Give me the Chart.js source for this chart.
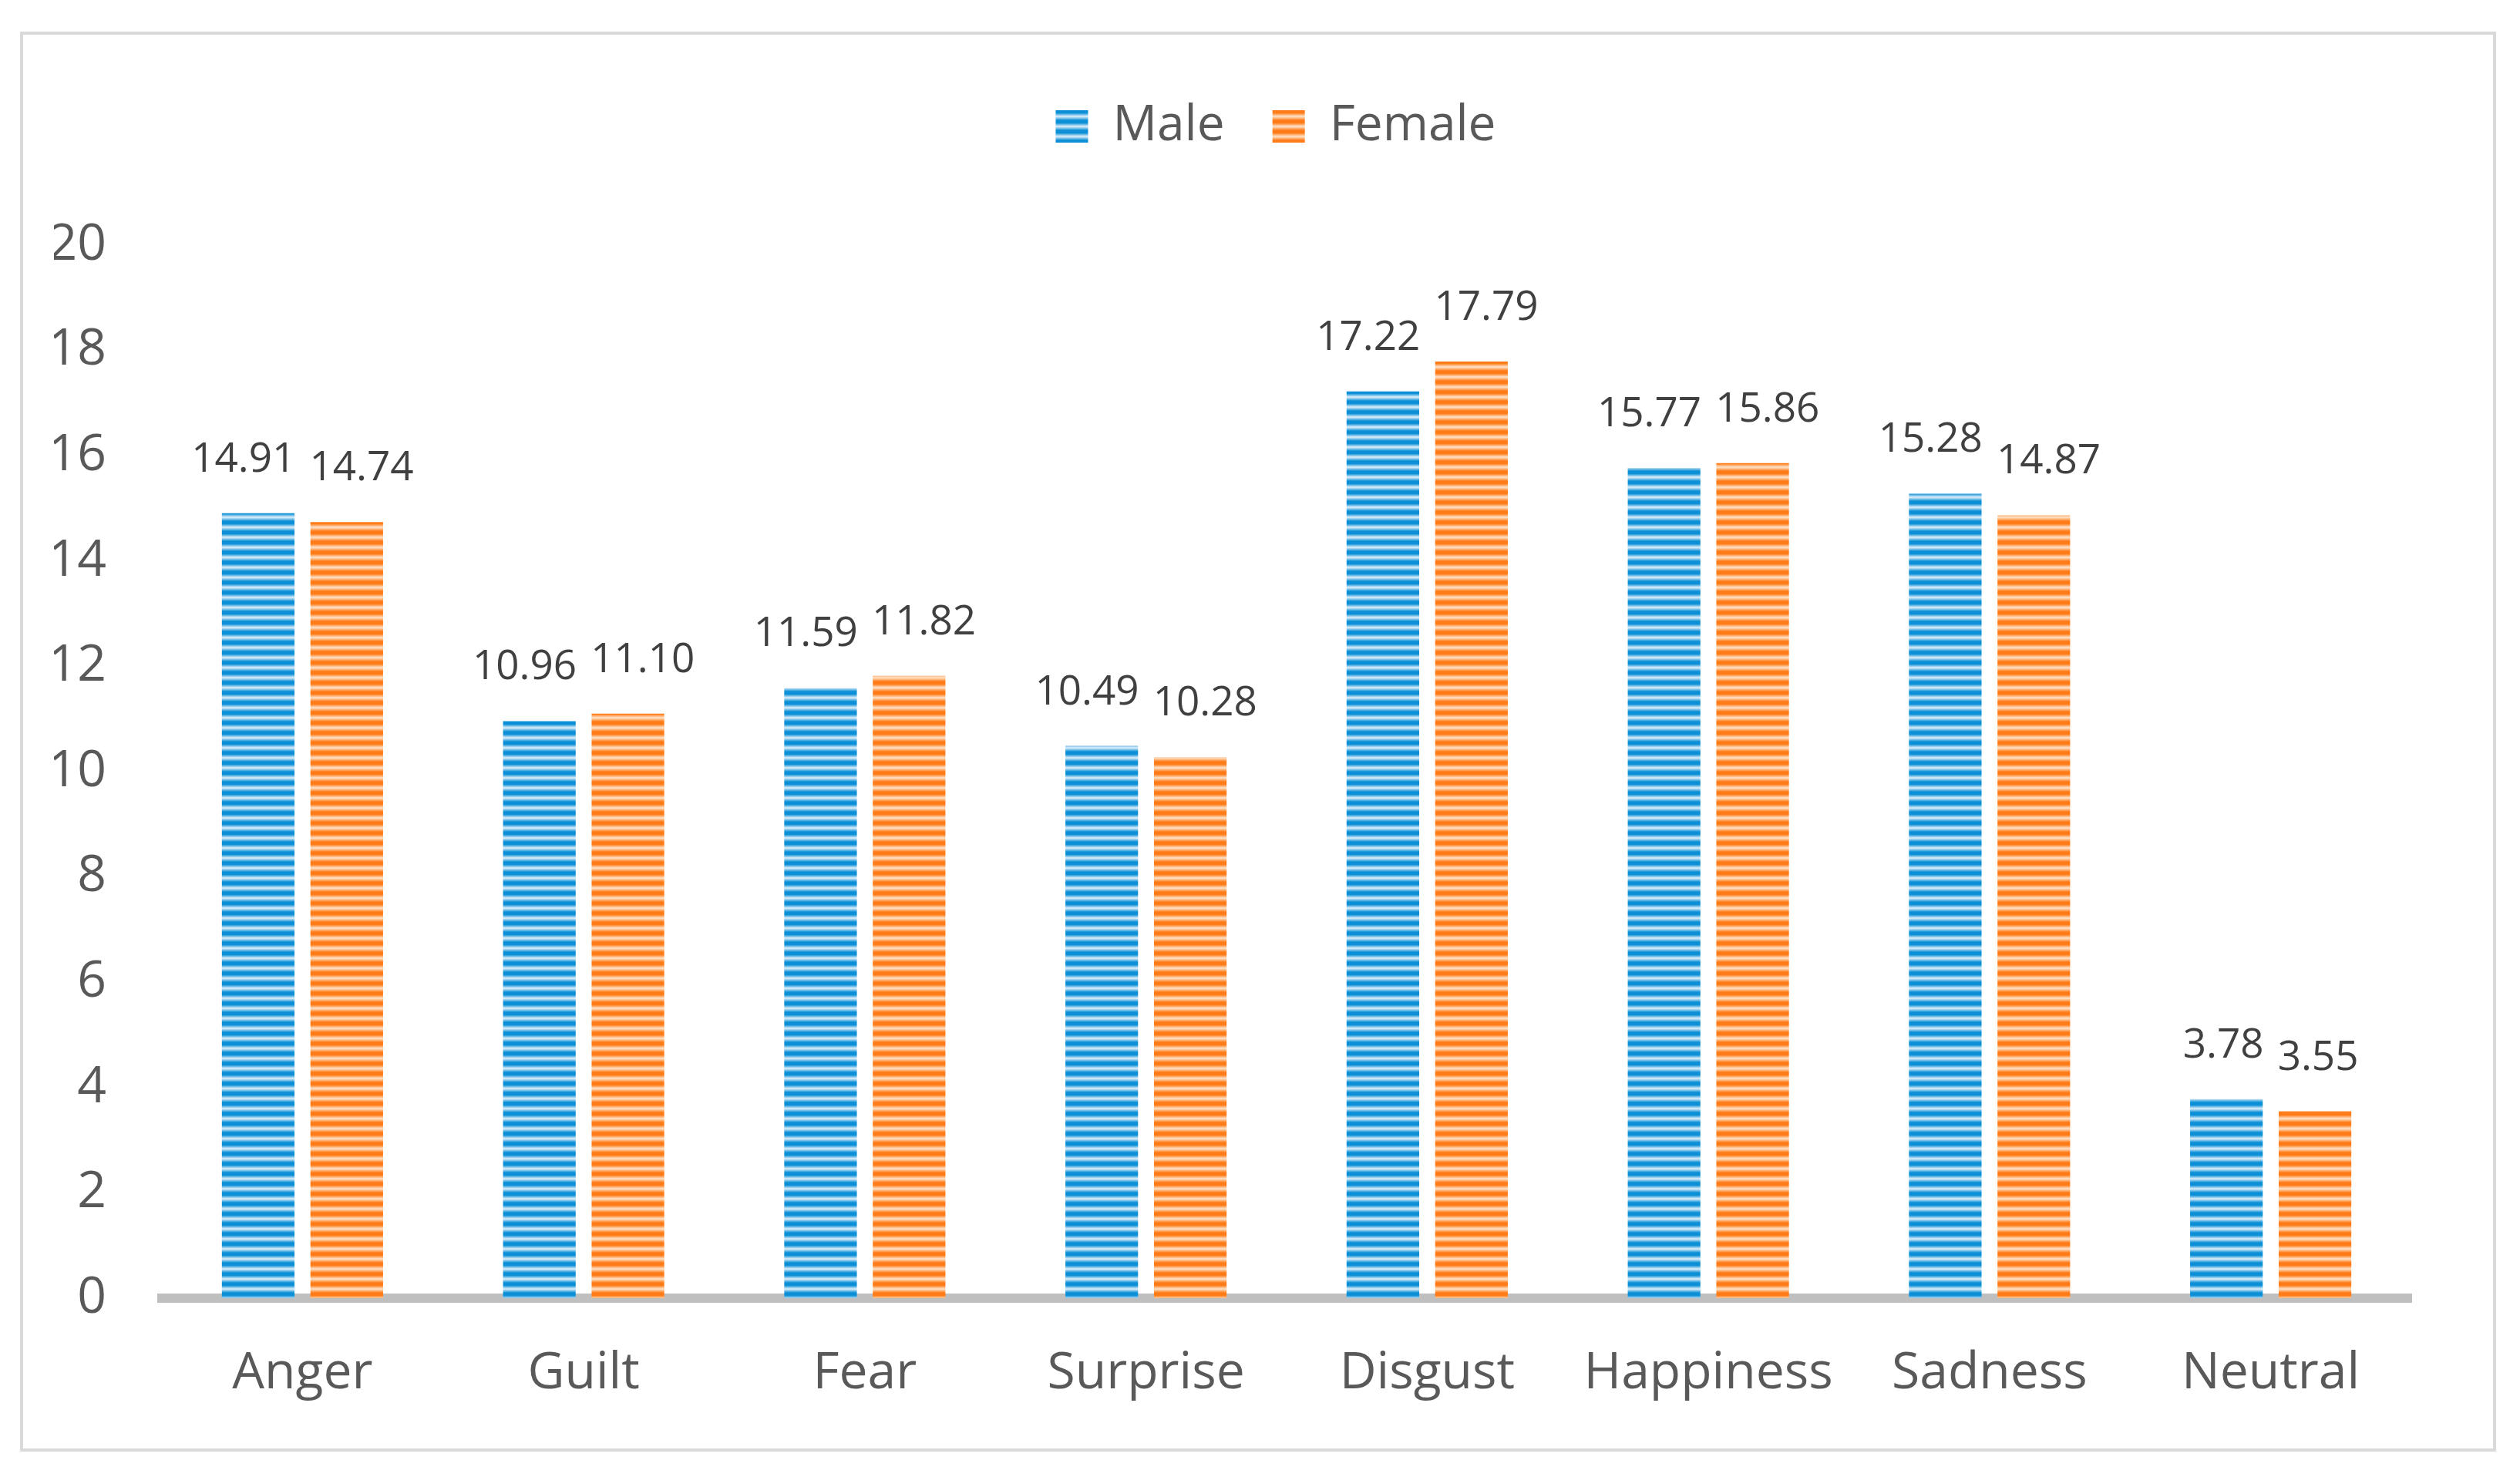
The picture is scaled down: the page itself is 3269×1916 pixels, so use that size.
<!DOCTYPE html>
<html>
<head>
<meta charset="utf-8">
<title>Male / Female</title>
<script src="https://cdn.jsdelivr.net/npm/chart.js@4.4.0/dist/chart.umd.min.js"></script>
<style>
    html, body { margin: 0; padding: 0; background: #fff; }
    #wrap { width: 3269px; height: 1916px; }
</style>
</head>
<body>
<div id="wrap"><canvas id="chart" width="3269" height="1916"></canvas></div>
<script>
var categories = ['Anger', 'Guilt', 'Fear', 'Surprise', 'Disgust', 'Happiness', 'Sadness', 'Neutral'];
var seriesNames = ['Male', 'Female'];
var maleValues = [14.91, 10.96, 11.59, 10.49, 17.22, 15.77, 15.28, 3.78];
var femaleValues = [14.74, 11.10, 11.82, 10.28, 17.79, 15.86, 14.87, 3.55];
var yMin = 0, yMax = 20, yStep = 2;

var FONT = '"Open Sans", "DejaVu Sans", sans-serif';
var TEXT = '#595959';

// horizontal striped fill like the Excel pattern
function stripes(dark, light) {
    var c = document.createElement('canvas');
    c.width = 4; c.height = 13;
    var g = c.getContext('2d');
    var grad = g.createLinearGradient(0, 0, 0, 13);
    grad.addColorStop(0, dark);
    grad.addColorStop(0.26, dark);
    grad.addColorStop(0.62, light);
    grad.addColorStop(1, dark);
    g.fillStyle = grad;
    g.fillRect(0, 0, 4, 13);
    return g.createPattern(c, 'repeat');
}

var blueFill = stripes('#0b8fd6', '#e2f0fa');
var orangeFill = stripes('#ff7b17', '#ffe4cc');

// white page and light grey frame
var framePlugin = {
    id: 'frame',
    beforeDraw: function (chart) {
        var ctx = chart.ctx;
        ctx.save();
        ctx.fillStyle = '#fff';
        ctx.fillRect(0, 0, chart.width, chart.height);
        ctx.strokeStyle = '#d9d9d9';
        ctx.lineWidth = 4;
        ctx.strokeRect(28, 43, 3208, 1838);
        ctx.restore();
    }
};

// extra room under the legend, and centre it on the frame
var legendSpace = {
    id: 'legendSpace',
    afterInit: function (chart) {
        var lg = chart.legend;
        var fit = lg.fit;
        lg.fit = function () {
            fit.call(this);
            this.height = 248;
        };
    },
    afterLayout: function (chart) {
        chart.legend.left += 56;
        chart.legend.right += 56;
    }
};

// value labels above bars, pushed apart when a pair would collide
var valueLabels = {
    id: 'valueLabels',
    afterDatasetsDraw: function (chart) {
        var ctx = chart.ctx;
        var m0 = chart.getDatasetMeta(0), m1 = chart.getDatasetMeta(1);
        var d0 = chart.data.datasets[0].data, d1 = chart.data.datasets[1].data;
        ctx.save();
        ctx.font = '53px ' + FONT;
        ctx.fillStyle = '#404040';
        ctx.textAlign = 'center';
        ctx.textBaseline = 'alphabetic';
        for (var i = 0; i < d0.length; i++) {
            var a = m0.data[i], b = m1.data[i];
            var ta = d0[i].toFixed(2), tb = d1[i].toFixed(2);
            var xa = a.x, xb = b.x;
            var ya = a.y - 54, yb = b.y - 54;
            var wa = ctx.measureText(ta).width, wb = ctx.measureText(tb).width;
            var overlap = (xa + wa / 2) - (xb - wb / 2) + 18;
            if (overlap > 0 && Math.abs(ya - yb) < 46) {
                xa -= overlap / 2;
                xb += overlap / 2;
            }
            ctx.fillText(ta, xa, ya);
            ctx.fillText(tb, xb, yb);
        }
        ctx.restore();
    }
};

new Chart(document.getElementById('chart').getContext('2d'), {
    type: 'bar',
    data: {
        labels: categories,
        datasets: [{
            label: seriesNames[0],
            data: maleValues,
            backgroundColor: blueFill,
            borderWidth: 0,
            categoryPercentage: 0.63,
            barPercentage: 0.82
        }, {
            label: seriesNames[1],
            data: femaleValues,
            backgroundColor: orangeFill,
            borderWidth: 0,
            categoryPercentage: 0.63,
            barPercentage: 0.82
        }]
    },
    options: {
        responsive: false,
        devicePixelRatio: 1,
        animation: false,
        layout: {padding: {left: 70, right: 141, top: 70, bottom: 86}},
        plugins: {
            legend: {
                position: 'top',
                labels: {
                    boxWidth: 42,
                    boxHeight: 42,
                    padding: 62,
                    color: TEXT,
                    font: {family: FONT, size: 64}
                }
            },
            tooltip: {enabled: false}
        },
        scales: {
            x: {
                grid: {display: false, drawTicks: false},
                border: {display: true, color: '#bfbfbf', width: 12},
                ticks: {color: TEXT, font: {family: FONT, size: 66}, padding: 59},
                afterFit: function (s) { s.height = 146; }
            },
            y: {
                min: yMin,
                max: yMax,
                grid: {display: false, drawTicks: false},
                border: {display: false},
                ticks: {stepSize: yStep, color: TEXT, font: {family: FONT, size: 66}, padding: 72},
                afterFit: function (s) { s.width = 140; }
            }
        }
    },
    plugins: [framePlugin, legendSpace, valueLabels]
});
</script>
</body>
</html>
